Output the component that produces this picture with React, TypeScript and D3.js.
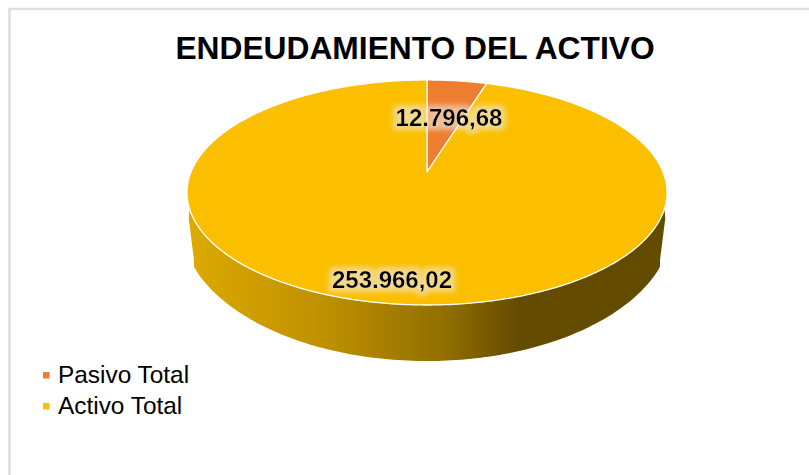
import React from "react";
import * as d3 from "d3";

const categories = ["Pasivo Total", "Activo Total"];
const values = [12796.68, 253966.02];
const valueLabels = ["12.796,68", "253.966,02"];
const colors = ["#ED7D31", "#FBBF00"];
const title = "ENDEUDAMIENTO DEL ACTIVO";

const apexX = 427, apexY = 172, K = -0.182, A = 108.8, C = 236;
const project = (a: number): [number, number] => {
  const u = Math.sin(a), v = -Math.cos(a), w = 1 + K * v;
  return [apexX + (C * u) / w, apexY + (A * v) / w];
};
const lowerAngles = d3.range(Math.PI / 2 - 0.05, (3 * Math.PI) / 2 + 0.05, 0.02);
const line = d3.line<[number, number]>().x(d => d[0]).y(d => d[1]);

const arcs = d3.pie<number>().sort(null)(values);

function slicePath(start: number, end: number) {
  const pts = d3.range(start, end, 0.01).concat(end).map(project);
  return line([[apexX, apexY], ...pts, [apexX, apexY]] as [number, number][]) + "Z";
}

const bottomX = d3.scaleLinear().domain([-1, 1]).range([182, 672]);
const bottomY = d3.scaleLinear().domain([-1, 1]).range([89, 361]);
const taper = d3.scaleLinear().domain([205, 260]).range([0, 7]).clamp(true);
const wallPath = () => {
  const top = lowerAngles.map(project);
  const bottom = lowerAngles.slice().reverse().map(a => {
    const y = bottomY(-Math.cos(a));
    const inset = taper(y);
    const x = Math.max(187 + inset, Math.min(667 - inset, bottomX(Math.sin(a))));
    return [x, y] as [number, number];
  });
  return line([...top, ...bottom]) + "Z";
};

const labelPos: [number, number][] = [[449, 126], [392, 288]];

export default function App() {
  return (
    <svg width={809} height={475} style={{ position: "absolute", left: 0, top: 0, background: "#fff" }}
      fontFamily="'Liberation Sans', Arial, sans-serif">
      <defs>
        <linearGradient id="wall" gradientUnits="userSpaceOnUse" x1={188} x2={667} y1={0} y2={0}>
          <stop offset="0" stopColor="#DDAA00" />
          <stop offset="0.3" stopColor="#BC8F00" />
          <stop offset="0.55" stopColor="#8E6C00" />
          <stop offset="0.69" stopColor="#634B00" />
          <stop offset="1" stopColor="#634B00" />
        </linearGradient>
        <filter id="halo" x="-20%" y="-50%" width="140%" height="200%">
          <feMorphology in="SourceAlpha" operator="dilate" radius="3.5" result="d" />
          <feGaussianBlur in="d" stdDeviation="2.4" result="b" />
          <feFlood floodColor="#F0E8D8" floodOpacity="0.62" />
          <feComposite in2="b" operator="in" result="h" />
          <feMerge>
            <feMergeNode in="h" />
            <feMergeNode in="SourceGraphic" />
          </feMerge>
        </filter>
      </defs>

      <rect x={9.5} y={9} width={830} height={500} fill="#fff" stroke="#DDDDDD" strokeWidth={2.5} />

      <text x={415} y={59} textAnchor="middle" fontSize={31.75} fontWeight={700} fill="#000">{title}</text>

      <path d={wallPath()} fill="url(#wall)" />
      {arcs.map((d, i) => (
        <path key={categories[i]} d={slicePath(d.startAngle, d.endAngle)} fill={colors[i]}
          stroke="#FFFFFF" strokeWidth={1.3} strokeLinejoin="round" />
      ))}

      {arcs.map((d, i) => (
        <text key={i} x={labelPos[i][0]} y={labelPos[i][1]} textAnchor="middle" fontSize={24}
          fontWeight={700} fill="#000" filter="url(#halo)">{valueLabels[i]}</text>
      ))}

      {categories.map((c, i) => (
        <g key={c} transform={`translate(0,${i * 31})`}>
          <rect x={43} y={372} width={6.5} height={6.5} fill={colors[i]} />
          <text x={58} y={383} fontSize={24.4} fill="#000">{c}</text>
        </g>
      ))}
    </svg>
  );
}
